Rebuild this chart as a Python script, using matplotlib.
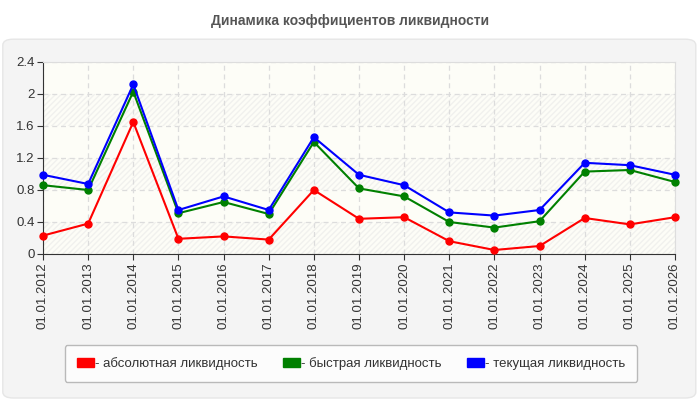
import matplotlib.pyplot as plt
from matplotlib.patches import FancyBboxPatch, Patch

plt.rcParams["font.family"] = ["Liberation Sans", "DejaVu Sans"]

dates = ["01.01.2012", "01.01.2013", "01.01.2014", "01.01.2015", "01.01.2016",
         "01.01.2017", "01.01.2018", "01.01.2019", "01.01.2020", "01.01.2021",
         "01.01.2022", "01.01.2023", "01.01.2024", "01.01.2025", "01.01.2026"]
absolute = [0.23, 0.38, 1.65, 0.19, 0.22, 0.18, 0.80, 0.44, 0.46, 0.16,
            0.05, 0.10, 0.45, 0.37, 0.46]
quick = [0.86, 0.80, 2.03, 0.51, 0.65, 0.50, 1.40, 0.82, 0.72, 0.40,
         0.33, 0.41, 1.03, 1.05, 0.90]
current = [0.99, 0.875, 2.12, 0.55, 0.72, 0.55, 1.46, 0.99, 0.86, 0.52,
           0.48, 0.55, 1.14, 1.11, 0.99]
yticks = [0, 0.4, 0.8, 1.2, 1.6, 2.0, 2.4]
ytick_labels = ["0", "0.4", "0.8", "1.2", "1.6", "2", "2.4"]

series = [
    (absolute, "#ff0000", "- абсолютная ликвидность"),
    (quick, "#008000", "- быстрая ликвидность"),
    (current, "#0000ff", "- текущая ликвидность"),
]

fig = plt.figure(figsize=(7, 4), dpi=100)
fig.patch.set_facecolor("white")

# grey rounded panel behind the chart
panel = FancyBboxPatch((0.004, 0.005), 0.99, 0.897,
                       boxstyle="round,pad=0,rounding_size=0.015",
                       transform=fig.transFigure, facecolor="#f4f4f4",
                       edgecolor="#e6e6e6", linewidth=1, zorder=-5)
fig.patches.append(panel)

fig.text(0.5, 0.948, "Динамика коэффициентов ликвидности", ha="center",
         va="center", fontsize=10, fontweight="bold", color="#555555")

ax = fig.add_axes([43 / 700, 146 / 400, 632 / 700, 192 / 400])
ax.set_facecolor("#fdfdf7")

x = list(range(len(dates)))

# alternating hatched bands
for lo in [0.0, 0.8, 1.6]:
    ax.axhspan(lo, lo + 0.4, facecolor="none", edgecolor="#f1f1ee",
               hatch="//////", linewidth=0, zorder=0)

for vals, col, lab in series:
    ax.plot(x, vals, color=col, linewidth=1.5, marker="o", markersize=5,
            zorder=3, clip_on=False)

ax.set_xlim(0, len(dates) - 1)
ax.set_ylim(0, 2.4)
ax.set_yticks(yticks)
ax.set_yticklabels(ytick_labels)
ax.set_xticks(x)
ax.set_xticklabels(dates, rotation=90)
ax.grid(True, linestyle=(0, (4, 3)), color="#dcdcdc", linewidth=0.9, zorder=1)
ax.set_axisbelow(True)

for side in ["top", "right"]:
    ax.spines[side].set_color("#dddddd")
for side in ["left", "bottom"]:
    ax.spines[side].set_color("#333333")
ax.tick_params(axis="both", direction="out", length=4, color="#333333",
               labelsize=9.5, labelcolor="#333333", pad=2)

handles = [Patch(facecolor=col, edgecolor=col, label=lab) for _, col, lab in series]
leg = fig.legend(handles=handles, loc="center", ncol=3,
                 bbox_to_anchor=(351 / 700, 1 - 363.5 / 400),
                 frameon=True, fontsize=9.5, handlelength=1.3,
                 handleheight=0.7, handletextpad=0.1, columnspacing=1.9,
                 borderpad=0.9, fancybox=True)
leg.get_frame().set_edgecolor("#aaaaaa")
leg.get_frame().set_facecolor("white")
for t in leg.get_texts():
    t.set_color("#333333")

fig.savefig("out.png", dpi=100)
